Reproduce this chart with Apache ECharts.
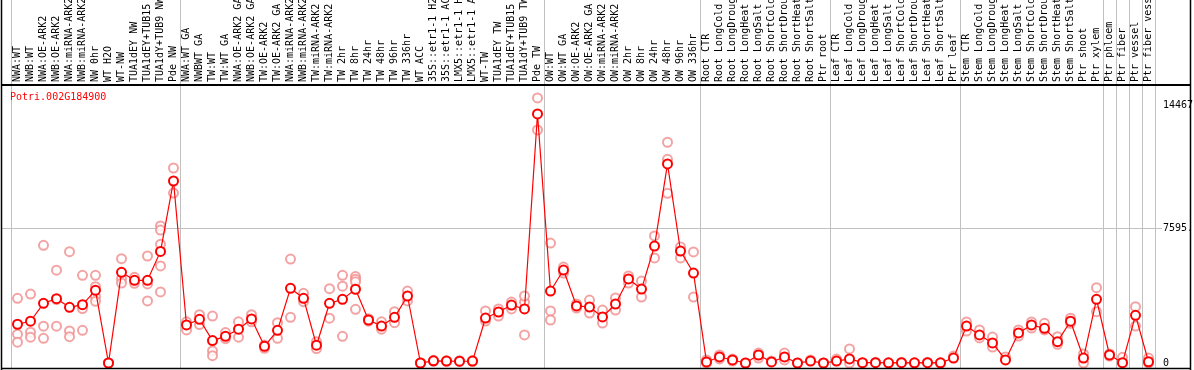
<!DOCTYPE html>
<html>
<head>
<meta charset="utf-8">
<script src="https://cdn.jsdelivr.net/npm/echarts@6/dist/echarts.min.js"></script>
<style>
html,body{margin:0;padding:0;background:#fff;}
#chart{width:1194px;height:370px;}
</style>
</head>
<body>
<div id="chart"></div>
<script>
const geneTitle = 'Potri.002G184900';

const categories = [
  'NWA:WT','NWB:WT','NWA:OE-ARK2','NWB:OE-ARK2','NWA:miRNA-ARK2','NWB:miRNA-ARK2','NW 0hr','WT H2O','WT-NW',
  'TUA1dEY NW','TUA1dEY+TUB15 NW','TUA1dY+TUB9 NW','Pde NW',
  'NWA:WT GA','NWBWT GA','TW:WT','TW:WT GA','NWA:OE-ARK2 GA','NWB:OE-ARK2 GA','TW:OE-ARK2','TW:OE-ARK2 GA',
  'NWA:miRNA-ARK2','NWB:miRNA-ARK2','TW:miRNA-ARK2','TW:miRNA-ARK2','TW 2hr','TW 8hr','TW 24hr','TW 48hr','TW 96hr','TW 336hr',
  'WT ACC','35S::etr1-1 H2O','35S::etr1-1 ACC','LMX5::etr1-1 H2O','LMX5::etr1-1 ACC','WT-TW','TUA1dEY TW','TUA1dEY+TUB15 TW','TUA1dY+TUB9 TW','Pde TW',
  'OW:WT','OW:WT GA','OW:OE-ARK2','OW:OE-ARK2 GA','OW:miRNA-ARK2','OW:miRNA-ARK2','OW 2hr','OW 8hr','OW 24hr','OW 48hr','OW 96hr','OW 336hr',
  'Root CTR','Root LongCold','Root LongDrought','Root LongHeat','Root LongSalt','Root ShortCold','Root ShortDrought','Root ShortHeat','Root ShortSalt','Ptr root',
  'Leaf CTR','Leaf LongCold','Leaf LongDrought','Leaf LongHeat','Leaf LongSalt','Leaf ShortCold','Leaf ShortDrought','Leaf ShortHeat','Leaf ShortSalt','Ptr leaf',
  'Stem CTR','Stem LongCold','Stem LongDrought','Stem LongHeat','Stem LongSalt','Stem ShortCold','Stem ShortDrought','Stem ShortHeat','Stem ShortSalt',
  'Ptr shoot','Ptr xylem','Ptr phloem','Ptr fiber','Ptr vessel','Ptr fiber vessel'
];

const meanValues = [
  2180,2350,3360,3620,3130,3280,4090,0,5100,
  4650,4650,6280,10240,
  2140,2460,1260,1500,1900,2480,940,1840,
  4200,3640,1000,3360,3580,4150,2420,2080,2570,3770,
  0,120,110,100,110,2530,2870,3260,3040,14010,
  4050,5230,3210,3150,2590,3320,4730,4160,6580,11200,6300,5060,
  60,340,170,0,450,60,340,0,110,0,
  110,230,20,20,10,20,10,20,10,280,
  2080,1580,1130,170,1690,2140,1950,1200,2350,
  280,3580,450,20,2680,70
];

const replicateValues = [
  [3640,1620,1170],[3880,1730,1450],[6620,2070,1390],[5220,2070,3570],[6260,1800,1480],[4930,3060,1840],
  [4930,4290,3730,3470],[0,0],[5870,4740,4500],
  [4820,4480],[6020,3490,4450],[7710,7480,6680,5460,4000],[10970,9560],
  [2320,1860],[2720,2160],[2640,680,410],[1710,1370],[2320,1450],[2720,2320],[1010,830],[2270,1390],
  [5850,2570],[3920,3450],[1200,810],[4180,2520],[4930,4320,1500],[4860,4710,4570,3020],[2350,2490],[2320,1900],[2890,2270],[4050,3490],
  [0,0],[150,90],[130,90],[120,80],[140,80],[2930,2360],[3040,2640],[3430,3040],[3430,1580,3770],[14910,13110],
  [6750,2930,2420],[5400,5060],[3320,3090],[3540,2810],[2980,2250],[3660,2980],[4900,4500],[4610,3710],[7150,5910],[12420,11460,9550],[6530,5910],[6250,3710],
  [170,0],[450,230],[220,110],[0],[560,280],[110],[560,170],[0],[170],[0],
  [220],[790,0],[0],[40],[0],[40],[0],[40],[0],[390],
  [2310,1800],[1860,1410],[1460,900],[340],[1860,1520],[2310,1970],[2230,1860],[1480,1050],[2520,2230],
  [510,0],[4240,2890],[510,390],[320,0],[3170,2080],[280,0]
];

const yTickValues = [0, 7595, 14467];
const yTickLabels = ['0', '7595.', '14467'];
const gridLineValues = [7595];
// indices after which a grey group separator is drawn (-1 = before first)
const separatorAfter = [-1, 12, 40, 52, 62, 72, 83, 84, 85, 86, 87];

const replicatePoints = [];
replicateValues.forEach((reps, i) => reps.forEach(v => replicatePoints.push([i, v])));

const MONO = "'DejaVu Sans Mono', 'Liberation Mono', monospace";
const chart = echarts.init(document.getElementById('chart'), null, {renderer: 'canvas'});

chart.setOption({
  animation: false,
  backgroundColor: '#ffffff',
  title: {
    text: geneTitle,
    left: 10, top: 92, padding: 0,
    textStyle: {color: '#ff0000', fontFamily: MONO, fontSize: 10, fontWeight: 'normal'}
  },
  grid: {left: 11, right: 39, top: 85, bottom: 2, containLabel: false, outerBoundsMode: 'none'},
  xAxis: {
    type: 'category',
    position: 'top',
    data: categories,
    boundaryGap: true,
    axisLine: {show: false},
    axisTick: {show: false},
    splitLine: {show: false},
    axisLabel: {
      interval: 0, rotate: 90, margin: 3, hideOverlap: false,
      fontFamily: MONO, fontSize: 10, color: '#000'
    }
  },
  yAxis: {
    type: 'value',
    position: 'right',
    min: -281, max: 15640,
    axisLine: {show: false},
    axisTick: {show: false},
    splitLine: {show: false},
    axisLabel: {
      customValues: yTickValues,
      margin: 8,
      fontFamily: MONO, fontSize: 10, color: '#000',
      formatter: v => yTickLabels[yTickValues.indexOf(v)] ?? String(v)
    }
  },
  series: [
    {
      type: 'scatter',
      data: replicatePoints,
      symbol: 'emptyCircle',
      symbolSize: 9,
      itemStyle: {color: '#f08c8c', borderColor: '#f08c8c', borderWidth: 1.2},
      z: 2
    },
    {
      type: 'line',
      data: meanValues,
      symbol: 'emptyCircle',
      symbolSize: 9,
      showAllSymbol: true,
      lineStyle: {color: '#ff0000', width: 1.2},
      itemStyle: {color: '#ff0000', borderColor: '#ff0000', borderWidth: 1.6},
      z: 3
    }
  ]
});

// decorations derived from the chart's own scales
const px = i => chart.convertToPixel({xAxisIndex: 0}, i);
const band = px(1) - px(0);
const crisp = v => Math.round(v - 0.5) + 0.5;
const graphics = [];
separatorAfter.forEach(k => {
  const x = crisp(px(Math.max(k, 0)) + (k < 0 ? -band / 2 : band / 2));
  graphics.push({type: 'line', z: 0, silent: true,
    shape: {x1: x, y1: 0, x2: x, y2: 368},
    style: {stroke: '#c0c0c0', lineWidth: 1}});
});
gridLineValues.forEach(v => {
  const y = crisp(chart.convertToPixel({yAxisIndex: 0}, v));
  graphics.push({type: 'line', z: 0, silent: true,
    shape: {x1: 2, y1: y, x2: 1162, y2: y},
    style: {stroke: '#c0c0c0', lineWidth: 1}});
});
// frame
graphics.push({type: 'line', z: 10, silent: true, shape: {x1: 1, y1: 85, x2: 1191, y2: 85}, style: {stroke: '#000', lineWidth: 2}});
graphics.push({type: 'line', z: 10, silent: true, shape: {x1: 1.5, y1: 0, x2: 1.5, y2: 370}, style: {stroke: '#000', lineWidth: 1.5}});
graphics.push({type: 'line', z: 10, silent: true, shape: {x1: 1190.5, y1: 0, x2: 1190.5, y2: 370}, style: {stroke: '#000', lineWidth: 1.5}});
graphics.push({type: 'line', z: 10, silent: true, shape: {x1: 1, y1: 368.5, x2: 1191, y2: 368.5}, style: {stroke: '#000', lineWidth: 1.5}});
chart.setOption({graphic: graphics});
</script>
</body>
</html>
